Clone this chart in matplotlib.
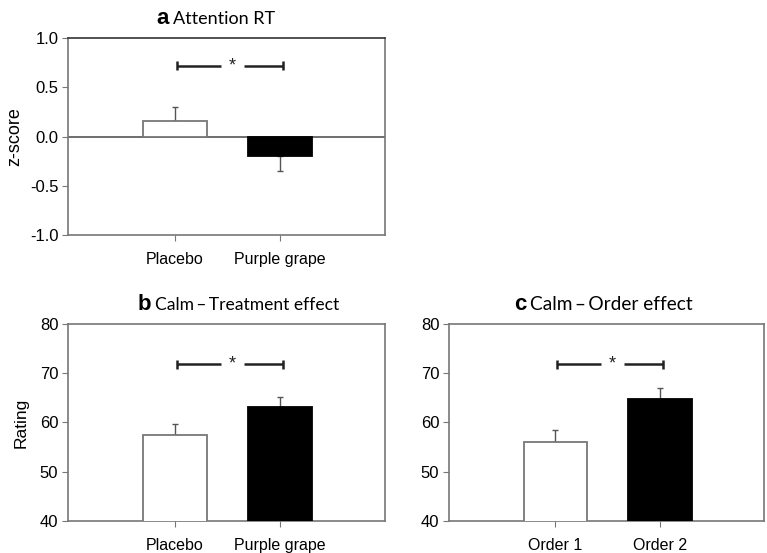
import matplotlib
matplotlib.use("Agg")
import matplotlib.pyplot as plt
import numpy as np

# values
treat_labels = ["Placebo", "Purple grape"]
order_labels = ["Order 1", "Order 2"]
attn_mean = [0.155, -0.20]
attn_err = [0.145, 0.15]
calm_treat_mean = [57.5, 63.2]
calm_treat_err = [2.2, 2.0]
calm_order_mean = [56.1, 64.7]
calm_order_err = [2.3, 2.3]

plt.rcParams['font.family'] = ['Liberation Sans', 'DejaVu Sans']

fig = plt.figure(figsize=(7.67, 5.53), dpi=100)
ax_a = fig.add_axes([0.0887, 0.575, 0.4133, 0.356])
ax_b = fig.add_axes([0.0887, 0.058, 0.4133, 0.356])
ax_c = fig.add_axes([0.5854, 0.058, 0.4107, 0.356])

spine_col = "#777777"
x = np.array([1, 2])


def draw_panel(ax, labels, means, errs, ylim, yticks, fmt):
    ax.bar(x, means, width=0.61, color=["white", "black"],
           edgecolor=[spine_col, "black"], linewidth=1.3, zorder=3)
    # one-sided error bars, away from zero
    lo = [0 if m >= 0 else e for m, e in zip(means, errs)]
    hi = [e if m >= 0 else 0 for m, e in zip(means, errs)]
    ax.errorbar(x, means, yerr=[lo, hi], fmt="none", ecolor="#555555",
                elinewidth=1.0, capsize=2.5, capthick=1.0, zorder=2)
    ax.set_xlim(-0.02, 3.0)
    ax.set_ylim(*ylim)
    ax.set_yticks(yticks)
    ax.set_yticklabels([fmt.format(v) for v in yticks], fontsize=12)
    ax.set_xticks(x)
    ax.set_xticklabels(labels, fontsize=11.5)
    ax.tick_params(axis="x", length=4, pad=8, color=spine_col)
    ax.tick_params(axis="y", length=4, pad=3, color=spine_col)
    for s in ax.spines.values():
        s.set_color(spine_col)
        s.set_linewidth(1.2)


def sig_bracket(ax, y, cap):
    x1, x2 = x[0] + 0.02, x[1] + 0.03
    xm = (x1 + x2) / 2
    kw = dict(color="#222222", lw=1.8, solid_capstyle="butt")
    ax.plot([x1, xm - 0.09], [y, y], **kw)
    ax.plot([xm + 0.13, x2], [y, y], **kw)
    ax.plot([x1, x1], [y - cap, y + cap], **kw)
    ax.plot([x2, x2], [y - cap, y + cap], **kw)
    ax.text(xm + 0.02, y, "*", ha="center", va="center", fontsize=13, color="#222222")


def panel_title(ax, letter, text, xf, size=13):
    ax.text(xf, 1.07, letter, transform=ax.transAxes, ha="right", va="baseline",
            fontsize=16, fontweight="bold")
    ax.text(xf + 0.012, 1.07, text, transform=ax.transAxes, ha="left", va="baseline",
            fontsize=size, family=["Lato", "DejaVu Sans"])


draw_panel(ax_a, treat_labels, attn_mean, attn_err, (-1.0, 1.0),
           [-1.0, -0.5, 0.0, 0.5, 1.0], "{:.1f}")
ax_a.axhline(0, color="#555555", lw=1.2, zorder=1)
ax_a.spines["top"].set_color("#333333")
sig_bracket(ax_a, 0.72, 0.045)
ax_a.set_ylabel("z-score", fontsize=13, labelpad=5)
panel_title(ax_a, "a", "Attention RT", 0.318)

draw_panel(ax_b, treat_labels, calm_treat_mean, calm_treat_err, (40, 80),
           [40, 50, 60, 70, 80], "{:.0f}")
sig_bracket(ax_b, 71.8, 0.9)
ax_b.set_ylabel("Rating", fontsize=12.5, labelpad=8)
panel_title(ax_b, "b", "Calm\u2009\u2013\u2009Treatment effect", 0.262, 12.6)

draw_panel(ax_c, order_labels, calm_order_mean, calm_order_err, (40, 80),
           [40, 50, 60, 70, 80], "{:.0f}")
sig_bracket(ax_c, 71.8, 0.9)
panel_title(ax_c, "c", "Calm\u2009\u2013\u2009Order effect", 0.245, 13.8)

fig.savefig("out.png", dpi=100)
